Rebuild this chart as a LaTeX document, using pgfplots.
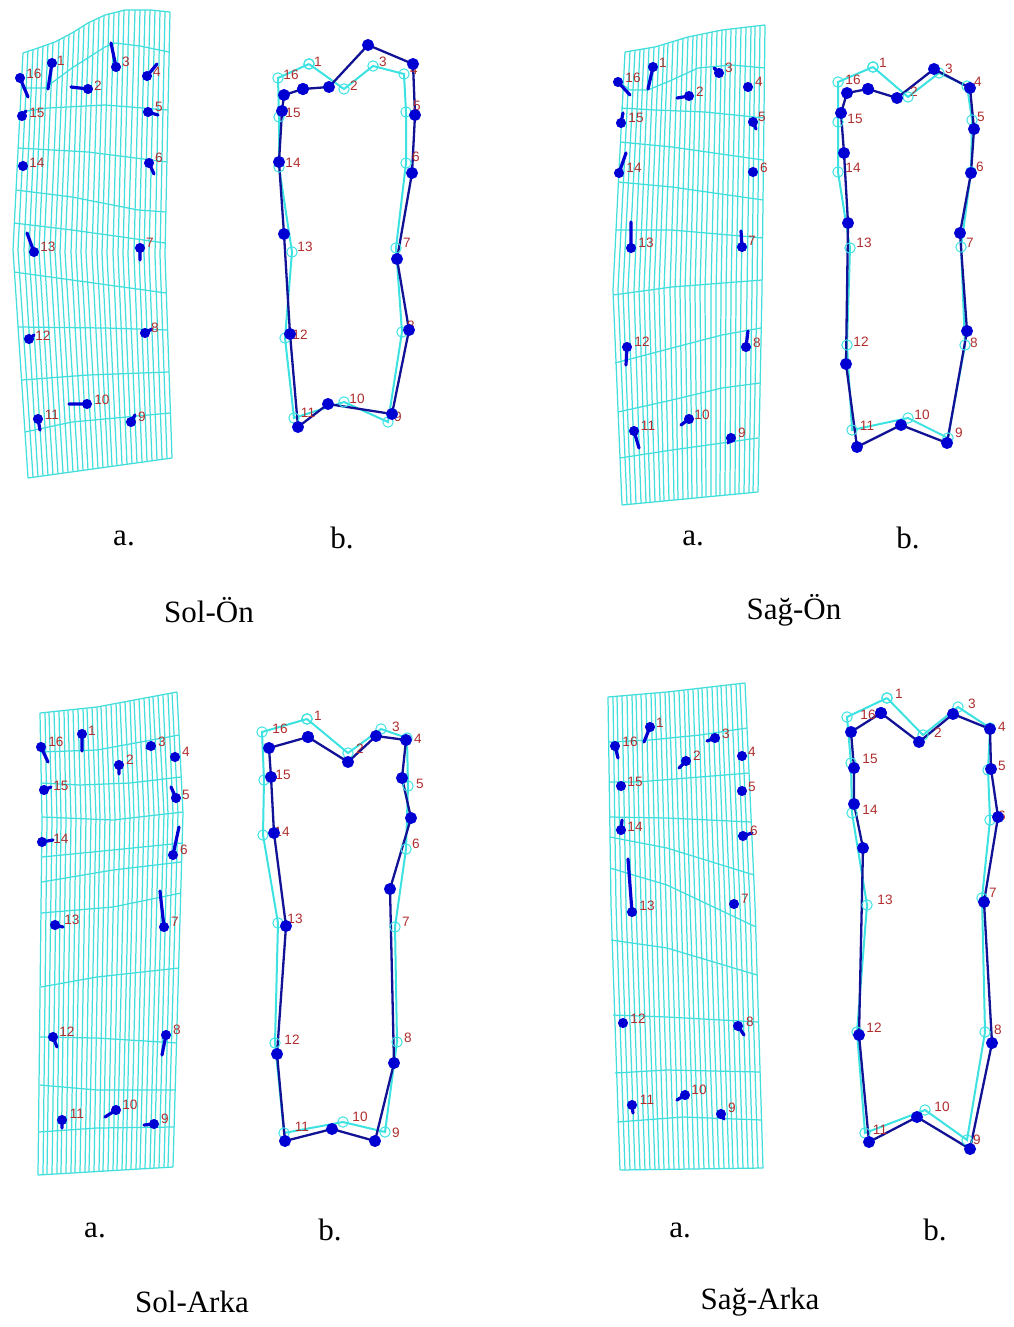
\documentclass[border=0pt]{standalone}
\usepackage{fontspec}
\setmainfont{Liberation Serif}
\newfontfamily\lblfont{Liberation Sans}
\usepackage{pgfplots}
\pgfplotsset{compat=1.18}

\definecolor{meshcyan}{RGB}{66,222,220}
\definecolor{polycyan}{RGB}{60,225,225}
\definecolor{navyline}{RGB}{18,18,150}
\definecolor{dotblue}{RGB}{0,0,210}
\definecolor{labred}{RGB}{175,45,45}

\pgfplotsset{
  gridline/.style={color=meshcyan, line width=0.62pt, mark=none, line join=round},
  tail/.style={color=dotblue, line width=1.6pt, mark=none, line cap=round},
  dot/.style={only marks, mark=*, mark size=2.3pt, color=dotblue},
  cyanpoly/.style={color=polycyan, line width=1pt, mark=o, mark size=2.6pt, mark options={line width=0.5pt}},
  navypoly/.style={color=navyline, line width=1.15pt, mark=*, mark size=2.4pt, mark options={fill=dotblue, draw=dotblue}},
}
\tikzset{
  numlabel/.style={font=\lblfont\fontsize{6.8}{7}\selectfont, text=labred, inner sep=0pt, anchor=center},
  captext/.style={font=\fontsize{15.5}{18}\selectfont, inner sep=0pt, anchor=center},
}
\newcommand\lb[3]{\node[numlabel] at (axis cs:#1,#2) {#3};}
\newcommand\cp[3]{\node[captext] at (axis cs:#1,#2) {#3};}

\begin{document}
\begin{tikzpicture}
\useasboundingbox (0,0) rectangle (506.5pt,663.5pt);
\begin{axis}[at={(0,0)}, anchor=south west, scale only axis,
  width=506.5pt, height=663.5pt,
  xmin=0, xmax=1013, ymin=0, ymax=1327, y dir=reverse,
  axis lines=none, ticks=none, clip=false, unbounded coords=jump]

%% ---------------- Sol-Ön : mesh (a) ----------------
\addplot[gridline] coordinates {
(23,53) (13,250) (28,478) (nan,nan) (28,51) (18,250) (33,477) (nan,nan)
(33,50) (24,250) (38,477) (nan,nan) (38,48) (29,251) (43,476) (nan,nan)
(43,46) (34,251) (48,475) (nan,nan) (48,44) (39,251) (53,475) (nan,nan)
(53,43) (44,251) (58,474) (nan,nan) (59,40) (50,251) (63,473) (nan,nan)
(64,37) (55,251) (68,472) (nan,nan) (69,35) (60,252) (73,472) (nan,nan)
(74,32) (65,252) (78,471) (nan,nan) (79,29) (71,252) (83,470) (nan,nan)
(84,26) (76,252) (88,470) (nan,nan) (89,23) (81,252) (93,469) (nan,nan)
(94,20) (86,252) (98,468) (nan,nan) (99,18) (92,253) (103,468) (nan,nan)
(104,15) (97,253) (108,467) (nan,nan) (109,14) (102,253) (112,466) (nan,nan)
(114,13) (107,253) (117,466) (nan,nan) (119,11) (113,253) (122,465) (nan,nan)
(124,10) (118,253) (127,464) (nan,nan) (129,10) (123,254) (132,464) (nan,nan)
(135,10) (128,254) (137,463) (nan,nan) (140,10) (134,254) (142,462) (nan,nan)
(145,10) (139,254) (147,461) (nan,nan) (150,10) (144,254) (152,461) (nan,nan)
(155,10) (149,254) (157,460) (nan,nan) (160,11) (155,255) (162,459) (nan,nan)
(165,12) (160,255) (167,459) (nan,nan) (170,12) (165,255) (172,458)
};
\addplot[gridline] coordinates {
(23,53) (38,48) (55,42) (72,33) (88,23) (105,15) (125,10) (150,10) (170,12) (nan,nan)
(21,88) (45,88) (72,68) (105,47) (115,43) (140,46) (169,52) (nan,nan)
(20,112) (48,108) (105,105) (168,110) (nan,nan)
(18,148) (88,152) (167,162) (nan,nan)
(16,190) (72,197) (138,210) (166,212) (nan,nan)
(14,223) (72,230) (165,243) (nan,nan)
(14,272) (72,280) (166,293) (nan,nan)
(18,327) (105,328) (168,330) (nan,nan)
(22,380) (88,375) (169,372) (nan,nan)
(25,432) (72,422) (170,413) (nan,nan)
(28,478) (172,458)
};
\addplot[tail] coordinates {
(52,63) (48,89) (nan,nan) (88,89) (71,87) (nan,nan) (116,67) (111,43) (nan,nan)
(147,76) (157,64) (nan,nan) (148,112) (158,115) (nan,nan) (149,163) (154,174) (nan,nan)
(140,248) (140,260) (nan,nan) (145,333) (152,329) (nan,nan) (131,422) (135,415) (nan,nan)
(87,404) (69,404) (nan,nan) (38,419) (40,430) (nan,nan) (29,339) (34,335) (nan,nan)
(34,252) (27,233) (nan,nan) (22,116) (26,111) (nan,nan) (20,78) (28,97)
};
\addplot[dot] coordinates {
(52,63) (88,89) (116,67) (147,76) (148,112) (149,163) (140,248) (145,333)
(131,422) (87,404) (38,419) (29,339) (34,252) (23,166) (22,116) (20,78)
};
\lb{61}{61}{1}\lb{98}{86}{2}\lb{126}{62}{3}\lb{157}{72}{4}\lb{159}{107}{5}\lb{159}{158}{6}
\lb{150}{243}{7}\lb{155}{328}{8}\lb{142}{417}{9}\lb{102}{400}{10}\lb{52}{415}{11}
\lb{43}{336}{12}\lb{48}{247}{13}\lb{37}{163}{14}\lb{37}{113}{15}\lb{34}{74}{16}

%% ---------------- Sol-Ön : outline (b) ----------------
\addplot[cyanpoly] coordinates {
(309,64) (344,89) (373,66) (404,74) (406,112) (406,163) (396,248) (402,332) (388,422)
(344,402) (294,418) (285,338) (292,252) (279,167) (279,117) (278,78) (309,64)};
\addplot[navypoly] coordinates {
(303,89) (329,87) (368,45) (413,64) (415,115) (412,173) (397,259) (409,330) (392,414)
(328,404) (298,427) (290,334) (284,234) (279,162) (282,111) (284,95) (303,89)};
\lb{318}{62}{1}\lb{354}{86}{2}\lb{383}{62}{3}\lb{414}{70}{4}\lb{417}{106}{5}\lb{416}{157}{6}
\lb{407}{243}{7}\lb{411}{326}{8}\lb{398}{417}{9}\lb{357}{399}{10}\lb{308}{413}{11}
\lb{300}{335}{12}\lb{305}{247}{13}\lb{293}{163}{14}\lb{293}{113}{15}\lb{291}{75}{16}

%% ---------------- Sağ-Ön : mesh (a) ----------------
\addplot[gridline] coordinates {
(625,52) (613,290) (622,505) (nan,nan) (630,51) (618,290) (627,505) (nan,nan)
(635,50) (623,290) (631,504) (nan,nan) (640,50) (628,290) (636,504) (nan,nan)
(644,49) (634,290) (641,503) (nan,nan) (649,48) (639,290) (646,503) (nan,nan)
(654,47) (644,290) (650,502) (nan,nan) (659,46) (649,290) (655,502) (nan,nan)
(664,44) (654,290) (660,501) (nan,nan) (668,43) (659,290) (664,501) (nan,nan)
(673,41) (664,290) (669,500) (nan,nan) (678,40) (670,290) (674,500) (nan,nan)
(683,38) (675,290) (678,500) (nan,nan) (688,37) (680,290) (683,499) (nan,nan)
(693,36) (685,290) (688,499) (nan,nan) (697,35) (690,290) (692,498) (nan,nan)
(702,34) (695,290) (697,498) (nan,nan) (707,33) (700,290) (702,497) (nan,nan)
(712,32) (705,290) (706,497) (nan,nan) (717,31) (711,290) (711,496) (nan,nan)
(722,30) (716,290) (716,496) (nan,nan) (726,30) (721,290) (720,496) (nan,nan)
(731,29) (726,290) (725,495) (nan,nan) (736,28) (731,290) (730,495) (nan,nan)
(741,28) (736,290) (735,494) (nan,nan) (746,27) (741,290) (739,494) (nan,nan)
(751,27) (747,290) (744,493) (nan,nan) (755,26) (752,290) (749,493) (nan,nan)
(760,26) (757,290) (753,492) (nan,nan) (765,25) (762,290) (758,492)
};
\addplot[gridline] coordinates {
(625,52) (655,47) (688,37) (722,30) (765,25) (nan,nan)
(623,85) (630,90) (648,90) (672,80) (698,68) (732,65) (765,68) (nan,nan)
(621,108) (655,110) (705,112) (764,118) (nan,nan)
(620,142) (672,147) (763,160) (nan,nan)
(618,182) (672,187) (763,200) (nan,nan)
(616,230) (672,230) (763,238) (nan,nan)
(613,295) (672,287) (762,280) (nan,nan)
(615,363) (672,348) (722,335) (761,328) (nan,nan)
(618,412) (672,400) (722,388) (760,383) (nan,nan)
(620,458) (672,450) (758,438) (nan,nan)
(622,505) (758,492)
};
\addplot[tail] coordinates {
(653,67) (648,89) (nan,nan) (689,96) (677,98) (nan,nan) (719,73) (714,68) (nan,nan)
(753,122) (756,129) (nan,nan) (742,247) (741,231) (nan,nan) (746,347) (748,331) (nan,nan)
(731,438) (728,443) (nan,nan) (689,419) (681,425) (nan,nan) (634,431) (639,448) (nan,nan)
(627,347) (626,365) (nan,nan) (631,248) (631,222) (nan,nan) (619,173) (626,153) (nan,nan)
(621,123) (623,113) (nan,nan) (618,82) (630,95)
};
\addplot[dot] coordinates {
(653,67) (689,96) (719,73) (748,87) (753,122) (753,172) (742,247) (746,347)
(731,438) (689,419) (634,431) (627,347) (631,248) (619,173) (621,123) (618,82)
};
\lb{663}{63}{1}\lb{700}{92}{2}\lb{729}{68}{3}\lb{759}{82}{4}\lb{762}{117}{5}\lb{764}{168}{6}
\lb{752}{241}{7}\lb{757}{343}{8}\lb{742}{433}{9}\lb{702}{415}{10}\lb{648}{426}{11}
\lb{642}{342}{12}\lb{646}{243}{13}\lb{634}{168}{14}\lb{636}{118}{15}\lb{633}{78}{16}

%% ---------------- Sağ-Ön : outline (b) ----------------
\addplot[cyanpoly] coordinates {
(873,67) (908,97) (939,73) (967,86) (972,120) (971,172) (961,247) (965,345) (948,438)
(908,418) (852,430) (847,345) (850,248) (838,172) (838,122) (838,82) (873,67)};
\addplot[navypoly] coordinates {
(868,89) (897,98) (934,69) (970,88) (974,129) (971,173) (960,233) (967,331) (947,443)
(901,425) (857,447) (846,364) (848,223) (844,153) (841,113) (847,93) (868,89)};
\lb{883}{63}{1}\lb{914}{92}{2}\lb{949}{69}{3}\lb{978}{82}{4}\lb{981}{117}{5}\lb{980}{167}{6}
\lb{970}{243}{7}\lb{974}{343}{8}\lb{959}{433}{9}\lb{922}{415}{10}\lb{867}{426}{11}
\lb{861}{342}{12}\lb{864}{243}{13}\lb{853}{168}{14}\lb{855}{119}{15}\lb{853}{80}{16}

%% ---------------- Sol-Arka : mesh (a) ----------------
\addplot[gridline] coordinates {
(40,713) (42,820) (38,1175) (nan,nan) (45,712) (47,820) (43,1175) (nan,nan)
(49,712) (52,820) (47,1174) (nan,nan) (54,711) (57,819) (52,1174) (nan,nan)
(59,711) (61,819) (57,1174) (nan,nan) (64,710) (66,819) (61,1174) (nan,nan)
(68,710) (71,819) (66,1173) (nan,nan) (73,709) (76,818) (71,1173) (nan,nan)
(78,709) (81,818) (75,1173) (nan,nan) (83,708) (86,818) (80,1173) (nan,nan)
(87,708) (91,818) (85,1172) (nan,nan) (92,707) (96,817) (89,1172) (nan,nan)
(97,707) (100,817) (94,1172) (nan,nan) (101,706) (105,817) (99,1171) (nan,nan)
(106,705) (110,817) (103,1171) (nan,nan) (111,704) (115,816) (108,1171) (nan,nan)
(116,703) (120,816) (113,1171) (nan,nan) (120,703) (125,816) (117,1170) (nan,nan)
(125,702) (130,816) (122,1170) (nan,nan) (130,701) (134,815) (126,1170) (nan,nan)
(134,700) (139,815) (131,1169) (nan,nan) (139,699) (144,815) (136,1169) (nan,nan)
(144,698) (149,815) (140,1169) (nan,nan) (149,697) (154,814) (145,1169) (nan,nan)
(153,697) (159,814) (150,1168) (nan,nan) (158,696) (164,814) (154,1168) (nan,nan)
(163,695) (168,814) (159,1168) (nan,nan) (168,694) (173,813) (164,1168) (nan,nan)
(172,693) (178,813) (168,1167) (nan,nan) (177,692) (183,813) (173,1167)
};
\addplot[gridline] coordinates {
(40,713) (97,707) (177,692) (nan,nan)
(41,752) (97,750) (179,735) (nan,nan)
(41,783) (80,785) (130,783) (181,777) (nan,nan)
(42,817) (113,820) (183,812) (nan,nan)
(42,857) (113,850) (182,843) (nan,nan)
(42,882) (113,870) (181,862) (nan,nan)
(41,913) (113,907) (181,893) (nan,nan)
(41,987) (97,977) (179,968) (nan,nan)
(40,1037) (97,1038) (177,1043) (nan,nan)
(40,1085) (97,1090) (175,1090) (nan,nan)
(39,1132) (97,1128) (174,1127) (nan,nan)
(38,1175) (173,1167)
};
\addplot[tail] coordinates {
(82,734) (82,751) (nan,nan) (119,765) (119,774) (nan,nan) (151,746) (147,748) (nan,nan)
(176,798) (171,787) (nan,nan) (173,855) (179,827) (nan,nan) (164,927) (160,891) (nan,nan)
(166,1035) (162,1055) (nan,nan) (154,1124) (144,1125) (nan,nan) (116,1110) (105,1117) (nan,nan)
(62,1120) (62,1128) (nan,nan) (53,1037) (57,1047) (nan,nan) (55,925) (63,927) (nan,nan)
(42,842) (53,840) (nan,nan) (44,790) (51,787) (nan,nan) (41,747) (48,762)
};
\addplot[dot] coordinates {
(82,734) (119,765) (151,746) (175,757) (176,798) (173,855) (164,927) (166,1035)
(154,1124) (116,1110) (62,1120) (53,1037) (55,925) (42,842) (44,790) (41,747)
};
\lb{92}{731}{1}\lb{130}{760}{2}\lb{162}{742}{3}\lb{186}{752}{4}\lb{186}{795}{5}\lb{184}{850}{6}
\lb{175}{922}{7}\lb{177}{1030}{8}\lb{165}{1119}{9}\lb{130}{1105}{10}\lb{77}{1114}{11}
\lb{67}{1032}{12}\lb{72}{920}{13}\lb{61}{839}{14}\lb{61}{786}{15}\lb{56}{742}{16}

%% ---------------- Sol-Arka : outline (b) ----------------
\addplot[cyanpoly] coordinates {
(307,719) (348,753) (381,729) (407,738) (408,786) (406,849) (395,927) (397,1042) (385,1132)
(343,1122) (284,1133) (275,1043) (278,923) (263,835) (264,780) (262,732) (307,719)};
\addplot[navypoly] coordinates {
(308,737) (348,762) (376,736) (406,740) (402,778) (411,818) (390,889) (394,1063) (375,1141)
(332,1129) (285,1141) (277,1054) (286,926) (274,833) (271,777) (269,748) (308,737)};
\lb{318}{716}{1}\lb{360}{749}{2}\lb{396}{727}{3}\lb{418}{739}{4}\lb{420}{784}{5}\lb{416}{844}{6}
\lb{406}{922}{7}\lb{408}{1038}{8}\lb{396}{1133}{9}\lb{360}{1117}{10}\lb{302}{1127}{11}
\lb{292}{1040}{12}\lb{295}{919}{13}\lb{282}{832}{14}\lb{283}{775}{15}\lb{280}{729}{16}

%% ---------------- Sağ-Arka : mesh (a) ----------------
\addplot[gridline] coordinates {
(608,697) (611,905) (620,1170) (nan,nan) (613,697) (616,905) (625,1170) (nan,nan)
(617,696) (621,905) (630,1170) (nan,nan) (622,696) (626,905) (635,1170) (nan,nan)
(627,695) (631,905) (640,1170) (nan,nan) (632,695) (636,905) (645,1170) (nan,nan)
(636,695) (641,905) (650,1170) (nan,nan) (641,694) (646,905) (655,1170) (nan,nan)
(646,694) (651,905) (659,1169) (nan,nan) (651,693) (656,905) (664,1169) (nan,nan)
(655,693) (661,905) (669,1169) (nan,nan) (660,693) (666,905) (674,1169) (nan,nan)
(665,692) (671,905) (679,1169) (nan,nan) (669,692) (676,905) (684,1169) (nan,nan)
(674,691) (681,905) (689,1169) (nan,nan) (679,691) (686,905) (694,1169) (nan,nan)
(684,690) (690,905) (699,1169) (nan,nan) (688,690) (695,905) (704,1169) (nan,nan)
(693,689) (700,905) (709,1169) (nan,nan) (698,688) (705,905) (714,1169) (nan,nan)
(702,688) (710,905) (719,1169) (nan,nan) (707,687) (715,905) (724,1168) (nan,nan)
(712,687) (720,905) (729,1168) (nan,nan) (717,686) (725,905) (733,1168) (nan,nan)
(721,686) (730,905) (738,1168) (nan,nan) (726,685) (735,905) (743,1168) (nan,nan)
(731,685) (740,905) (748,1168) (nan,nan) (736,684) (745,905) (753,1168) (nan,nan)
(740,684) (750,905) (758,1168) (nan,nan) (745,683) (755,905) (763,1168)
};
\addplot[gridline] coordinates {
(608,697) (667,692) (745,683) (nan,nan)
(609,742) (650,740) (700,735) (747,728) (nan,nan)
(609,782) (637,782) (700,777) (749,773) (nan,nan)
(610,817) (667,818) (751,822) (nan,nan)
(610,837) (667,848) (754,875) (nan,nan)
(610,868) (667,885) (756,927) (nan,nan)
(611,940) (667,948) (757,975) (nan,nan)
(613,1015) (667,1017) (758,1022) (nan,nan)
(615,1073) (667,1070) (760,1072) (nan,nan)
(617,1122) (683,1117) (762,1120) (nan,nan)
(620,1170) (763,1168)
};
\addplot[tail] coordinates {
(650,727) (644,742) (nan,nan) (686,761) (679,768) (nan,nan) (715,738) (707,741) (nan,nan)
(743,836) (752,833) (nan,nan) (738,1026) (744,1035) (nan,nan) (721,1114) (724,1119) (nan,nan)
(685,1095) (677,1100) (nan,nan) (632,1105) (633,1113) (nan,nan) (632,912) (628,859) (nan,nan)
(621,830) (622,820) (nan,nan) (615,746) (618,758)
};
\addplot[dot] coordinates {
(650,727) (686,761) (715,738) (742,756) (742,791) (743,836) (734,904) (738,1026)
(721,1114) (685,1095) (632,1105) (623,1023) (632,912) (621,830) (621,786) (615,746)
};
\lb{660}{723}{1}\lb{697}{756}{2}\lb{726}{734}{3}\lb{752}{752}{4}\lb{752}{787}{5}\lb{754}{831}{6}
\lb{745}{899}{7}\lb{750}{1022}{8}\lb{732}{1108}{9}\lb{699}{1090}{10}\lb{647}{1100}{11}
\lb{638}{1019}{12}\lb{647}{906}{13}\lb{635}{827}{14}\lb{635}{782}{15}\lb{630}{742}{16}

%% ---------------- Sağ-Arka : outline (b) ----------------
\addplot[cyanpoly] coordinates {
(887,698) (923,735) (958,707) (990,728) (988,770) (990,820) (982,898) (985,1032) (967,1140)
(925,1110) (865,1133) (857,1032) (867,905) (852,813) (851,763) (847,717) (887,698)};
\addplot[navypoly] coordinates {
(881,713) (919,742) (953,714) (990,729) (991,769) (998,817) (984,902) (992,1043) (970,1149)
(917,1117) (869,1142) (859,1035) (863,848) (854,804) (854,768) (851,732) (881,713)};
\lb{899}{694}{1}\lb{938}{733}{2}\lb{972}{704}{3}\lb{1002}{727}{4}\lb{1002}{766}{5}\lb{1002}{816}{6}
\lb{993}{893}{7}\lb{998}{1030}{8}\lb{977}{1140}{9}\lb{942}{1107}{10}\lb{880}{1130}{11}
\lb{874}{1028}{12}\lb{885}{900}{13}\lb{870}{810}{14}\lb{870}{759}{15}\lb{868}{715}{16}

%% ---------------- captions ----------------
\cp{124}{538}{a.}\cp{342}{538}{b.}\cp{209}{610}{Sol-Ön}
\cp{693}{538}{a.}\cp{908}{538}{b.}\cp{794}{610}{Sağ-Ön}
\cp{95}{1230}{a.}\cp{330}{1230}{b.}\cp{192}{1302}{Sol-Arka}
\cp{680}{1230}{a.}\cp{935}{1230}{b.}\cp{760}{1302}{Sağ-Arka}
\end{axis}
\end{tikzpicture}
\end{document}
